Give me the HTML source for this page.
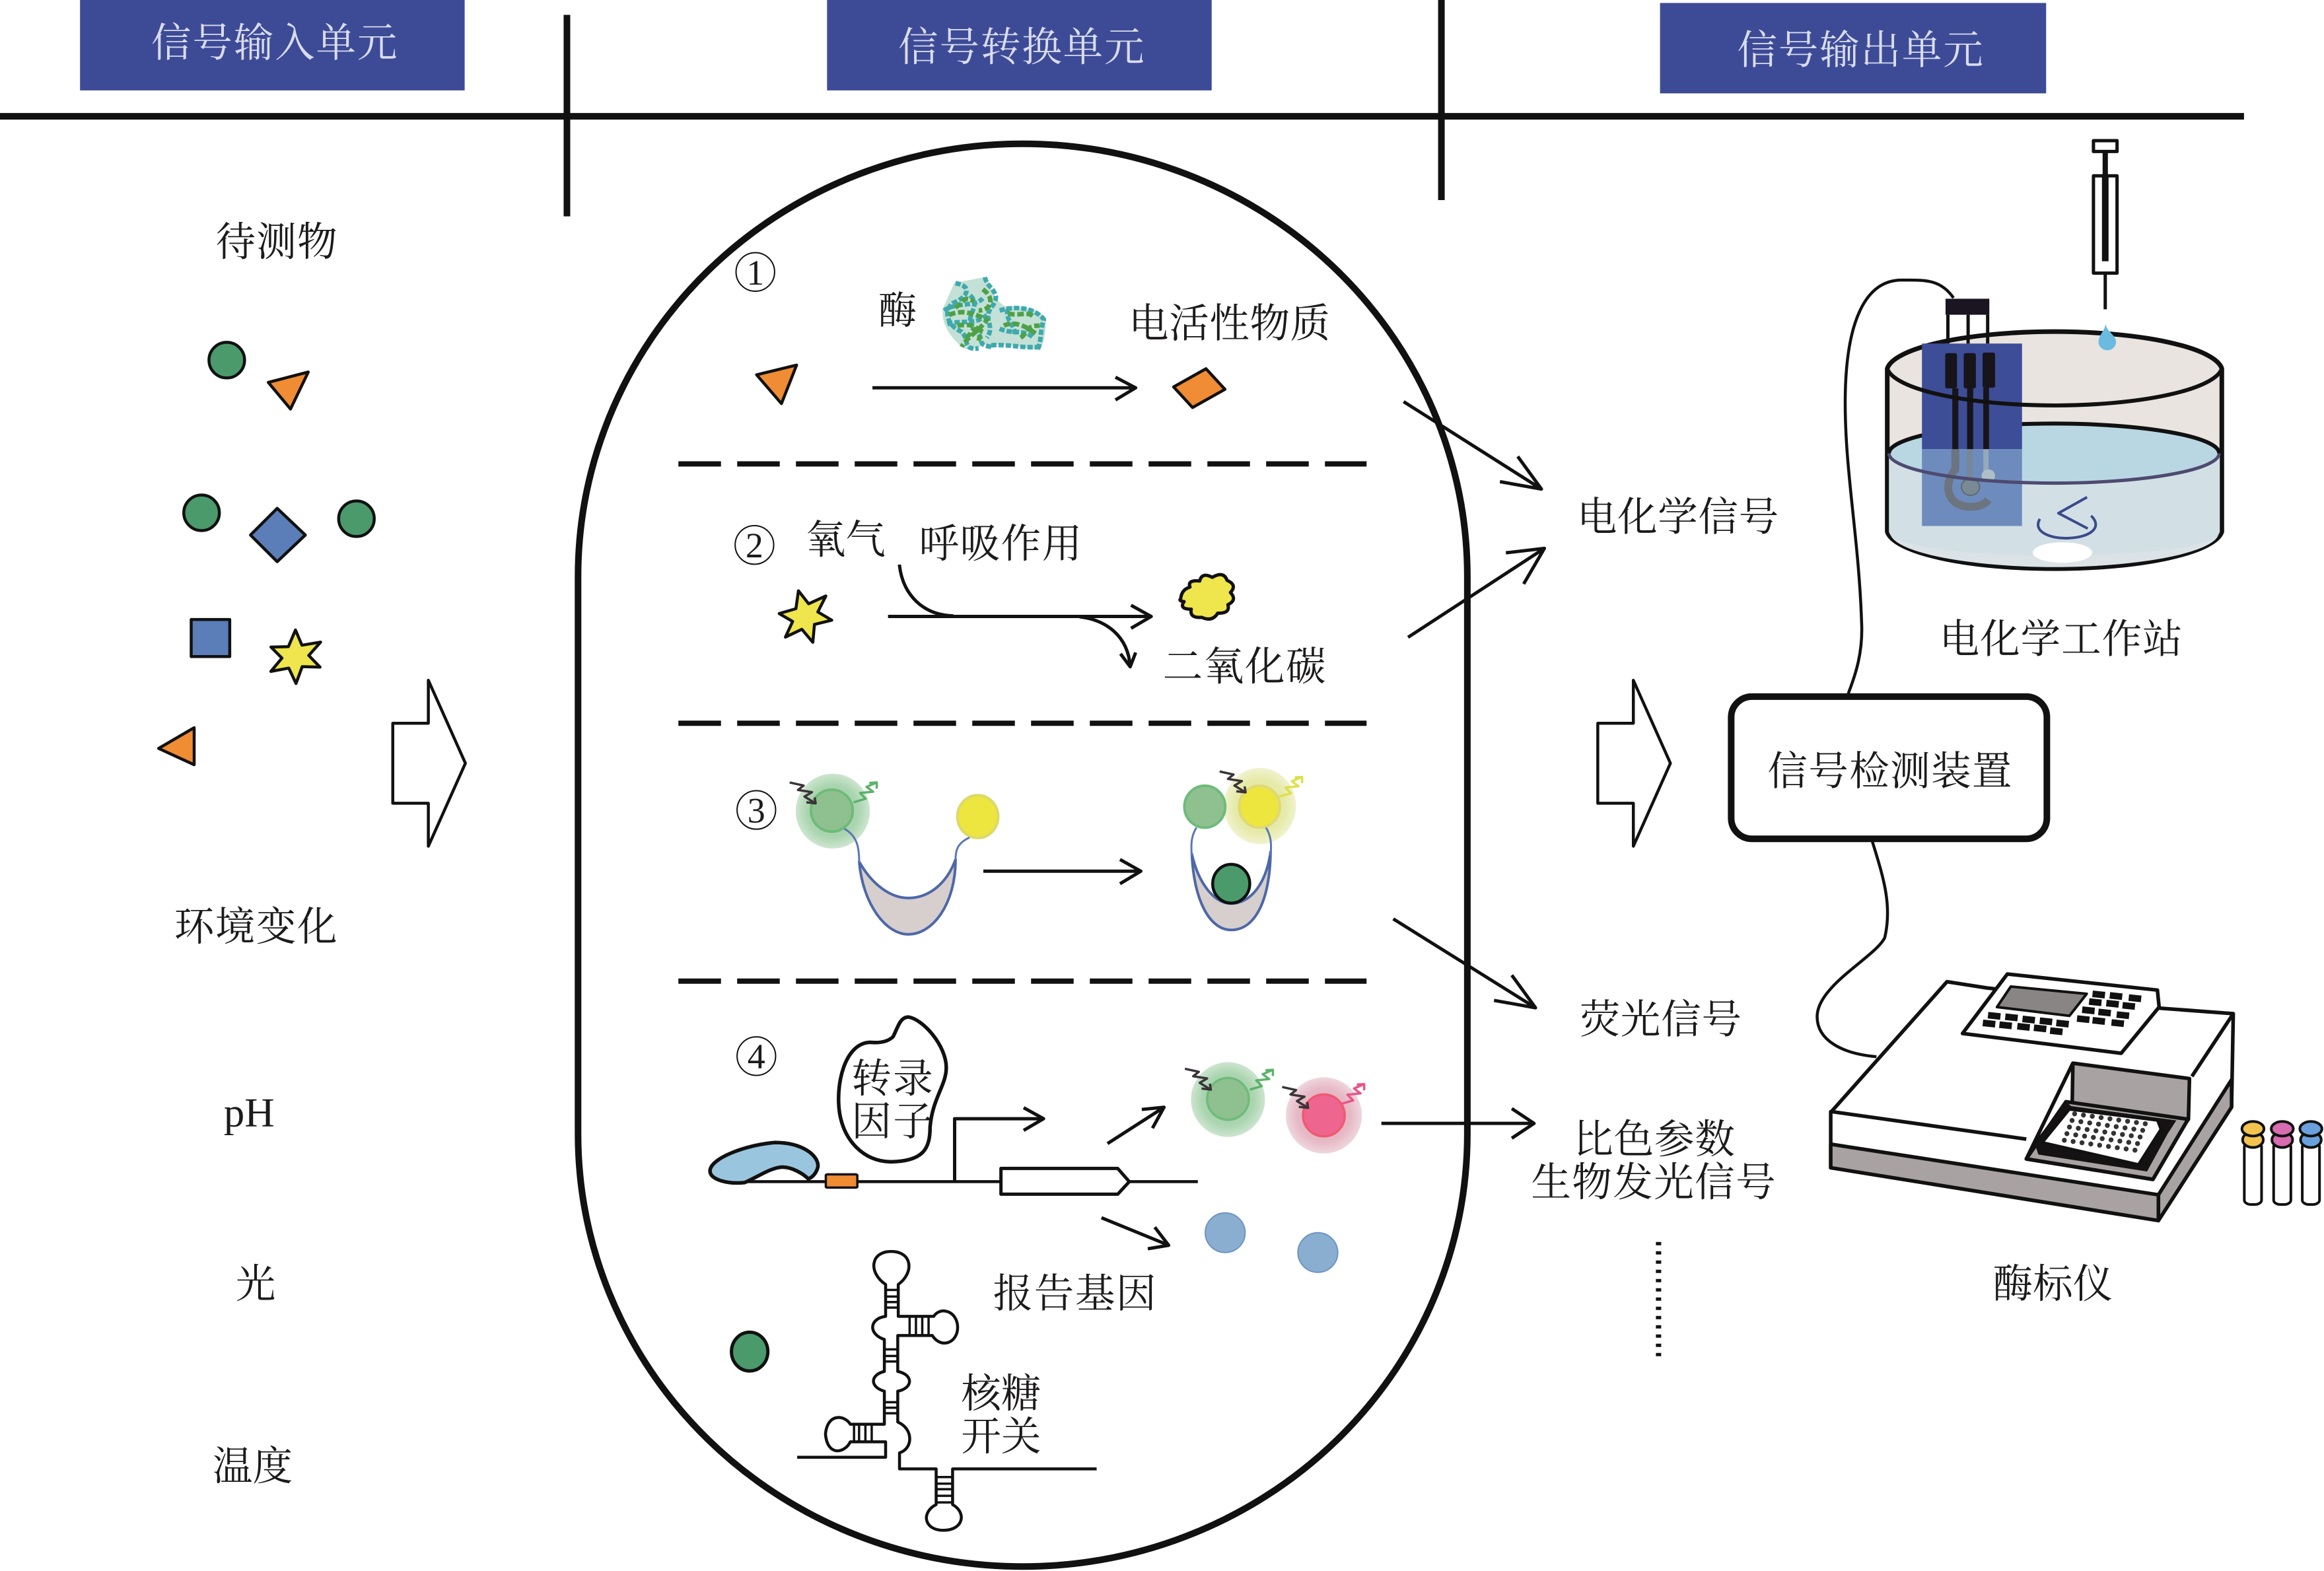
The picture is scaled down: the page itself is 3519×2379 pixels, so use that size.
<!DOCTYPE html>
<html><head><meta charset="utf-8"><style>
html,body{margin:0;padding:0;background:#fff}
svg{display:block}
svg *{vector-effect:non-scaling-stroke}
text{font-family:"Liberation Serif","Noto Serif CJK SC",serif;font-size:27px;fill:#1c1a1a;stroke:none}
.h{fill:#d9dcec}
</style></head><body>
<svg xmlns="http://www.w3.org/2000/svg" width="3519" height="2379" viewBox="0 0 3519 2379">
<defs>
<radialGradient id="gg"><stop offset="0" stop-color="#9ccda4"/><stop offset=".7" stop-color="#abd5b0"/><stop offset="1" stop-color="#cde5cf"/></radialGradient>
<radialGradient id="gy"><stop offset="0" stop-color="#e4e99a"/><stop offset=".7" stop-color="#e6eaa8"/><stop offset="1" stop-color="#f0f2cf"/></radialGradient>
<radialGradient id="gp"><stop offset="0" stop-color="#eaa5b8"/><stop offset=".7" stop-color="#e6b9c6"/><stop offset="1" stop-color="#efd6dc"/></radialGradient>
<path id="wi" fill="none" d="M0,0 L30,14 L18,34 L48,44 L32,64 L56,95 M36,90 L56,95 L54,68"/>
<path id="wo" fill="none" d="M0,90 L26,74 L14,48 L42,42 L28,20 L50,0 M34,2 L50,0 L50,28"/>
<polygon id="st" points="-4.3,-17.4 2.6,-8.6 14.2,-13.9 8.8,-3.1 18.2,2.5 6.5,5.3 5.4,17.4 -2,8.6 -13.1,13.9 -8.2,3.3 -17.3,-2 -6,-5.3"/>
</defs>
<rect width="3519" height="2379" fill="#fff"/>

<g transform="scale(2.2443)" fill="none" stroke="#111" stroke-width="5" stroke-linejoin="round">
<!-- headers -->
<rect x="54" y="0" width="259.5" height="61" fill="#3d4b97" stroke="none"/>
<rect x="558" y="0" width="259.5" height="61" fill="#3d4b97" stroke="none"/>
<rect x="1120" y="2" width="260.5" height="61" fill="#3d4b97" stroke="none"/>
<text class="h" x="102" y="38" textLength="166">信号输入单元</text>
<text class="h" x="606" y="41" textLength="166">信号转换单元</text>
<text class="h" x="1172" y="43" textLength="166">信号输出单元</text>
<path d="M0,78.5H1514M382.5,10V146M972.5,0V135" stroke-width="10"/>
<!-- capsule -->
<rect x="390" y="97" width="600" height="960" rx="300" ry="292" stroke-width="10"/>
<path d="M457.7,313H922M457.7,488H922M457.7,662H922" stroke-width="8" stroke-dasharray="64.5 24.5"/>

<!-- left column -->
<text x="145.5" y="172.5" textLength="82">待测物</text>
<text x="117.5" y="634.5" textLength="110">环境变化</text>
<text x="151" y="760" style="font-size:28px">pH</text>
<text x="159" y="875.5">光</text>
<text x="143.5" y="998.5" textLength="54">温度</text>
<g stroke-width="4.5">
<circle cx="153" cy="243" r="12" fill="#4b9a6b"/>
<polygon points="181,258 208,251 196,276" fill="#f08c33"/>
<circle cx="136" cy="346" r="12" fill="#4b9a6b"/>
<circle cx="240.5" cy="350" r="12" fill="#4b9a6b"/>
<polygon points="187,343 206,361 187,379 169,361" fill="#5b7db8"/>
<rect x="129" y="418" width="26" height="25" fill="#5b7db8"/>
<use href="#st" transform="translate(199,443) rotate(15)" fill="#eee64c"/>
<polygon points="107,505 131,491 131,516" fill="#f08c33"/>
</g>
<polygon points="265,488 289,488 289,459 314,515 289,571 289,542 265,542" stroke-width="4.5" fill="#fff"/>
<polygon points="1078,488 1102,488 1102,459 1127,515 1102,571 1102,542 1078,542" stroke-width="4.5" fill="#fff"/>

<!-- number circles -->
<g stroke-width="2">
<circle cx="509.6" cy="183.5" r="13"/><circle cx="509" cy="367.7" r="13"/><circle cx="510.3" cy="546.5" r="13"/><circle cx="510.3" cy="712.6" r="13"/>
</g>
<g style="text-anchor:middle">
<text x="509.6" y="192" style="font-size:24px">1</text>
<text x="509" y="376" style="font-size:24px">2</text>
<text x="510.3" y="555" style="font-size:24px">3</text>
<text x="510.3" y="721" style="font-size:24px">4</text>
</g>

<text x="592.5" y="218.5" style="font-size:26px">酶</text>
<text x="761.5" y="227.5" textLength="136">电活性物质</text>
<text x="543.5" y="373.5" textLength="54">氧气</text>
<text x="620" y="376" textLength="110">呼吸作用</text>
<text x="784.5" y="459" textLength="110">二氧化碳</text>
<text x="574.5" y="737" textLength="55">转录</text>
<text x="574.5" y="766" textLength="55">因子</text>
<text x="670" y="882" textLength="110">报告基因</text>
<text x="648.5" y="949.5" textLength="54">核糖</text>
<text x="648.5" y="978.5" textLength="54">开关</text>
<text x="1064" y="358" textLength="136">电化学信号</text>
<text x="1308.5" y="440.5" textLength="164">电化学工作站</text>
<text x="1192.5" y="529.5" textLength="165">信号检测装置</text>
<text x="1066" y="697" textLength="109">荧光信号</text>
<text x="1061.5" y="778" textLength="109">比色参数</text>
<text x="1033" y="807" textLength="165">生物发光信号</text>
<text x="1344.5" y="875.5" textLength="81">酶标仪</text>

<!-- long arrows -->
<path d="M947,271L1040,330M1012,325L1040,330L1024,308M950,430L1042,370M1016,373L1042,370L1028,394M940,620L1036,680M1008,675L1036,680L1020,658M932,758H1035M1020,748L1035,758L1020,768"/>
<path d="M1119,838V918" stroke-width="8" stroke-dasharray="5 9"/>
<rect x="1168" y="470" width="213" height="96" rx="14" stroke-width="10"/>
<path d="M1318,201C1309,188 1298,189 1283,189C1258,189 1246,218 1245,265C1244,315 1254,360 1256,420C1257,440 1252,455 1247,468" stroke-width="4.5"/>
<path d="M1263,567C1270,590 1277,610 1271.6,632.7C1265,646 1226,665 1226,686C1226,702 1243,711 1266,713" stroke-width="4.5"/>

<!-- Z6: sections 1,2 -->
<g transform="translate(481.2,160.4) scale(.28417,.2046)" stroke-width="4.5">
<polygon points="103,452 198,420 162,547" fill="#f08c33"/>
<polygon points="1093,492 1170,432 1215,500 1138,560" fill="#f08c33"/>
<path d="M378,495H1003M955,460L1003,495L955,535" stroke-width="5"/>
<path d="M572,150Q640,130 650,130Q665,200 690,225Q770,225 790,265Q790,340 775,372Q680,345 640,355Q610,378 590,360Q540,300 545,235Z" fill="#a9d4c4" stroke="none" opacity=".7"/>
<g stroke-width="7" stroke="#3fa9ad" stroke-dasharray="8 3">
<path d="M575,150C620,160 600,200 570,215C545,240 555,290 590,310C610,340 590,370 630,365"/>
<path d="M610,190C640,230 590,260 620,300C650,340 620,350 660,360"/>
<path d="M645,130C650,170 690,180 660,230C640,270 670,290 650,330"/>
<path d="M680,240C730,220 770,240 785,270C775,310 780,340 770,370"/>
<path d="M680,300C710,320 740,300 760,330M660,355C700,350 730,365 775,360"/>
<path d="M548,240C580,210 620,230 640,200M556,285C590,270 620,290 650,255M700,235C690,270 720,290 715,320"/>
</g>
<g stroke-width="7" stroke="#4fa146" stroke-dasharray="10 4">
<path d="M560,255C590,235 620,250 650,270C630,310 600,330 590,360"/>
<path d="M640,170C670,200 660,240 630,240M580,290C620,280 640,300 630,340"/>
<path d="M690,290C720,270 750,300 770,320M700,250C730,260 745,240 760,260"/>
<path d="M600,330C620,310 610,290 640,310M575,230C600,210 590,190 620,210M730,330C750,310 740,290 775,290"/>
</g>
<path d="M442,1078C450,1180 500,1245 570,1247M415,1249H1040M992,1212L1040,1249L992,1288M870,1250C930,1260 985,1310 990,1415M967,1372L990,1415L1003,1368" stroke-width="5"/>
<path d="M1110,1190Q1112,1160 1132,1152Q1125,1128 1155,1132Q1160,1102 1185,1120Q1212,1098 1220,1130Q1245,1145 1228,1170Q1245,1195 1222,1210Q1228,1240 1198,1238Q1185,1268 1160,1252Q1130,1255 1135,1225Q1105,1225 1118,1200Q1104,1198 1110,1190Z" fill="#eee64c" stroke-width="5"/>
</g>
<use href="#st" transform="translate(543,416)" fill="#eee64c" stroke-width="4.5"/>

<!-- Z3: section 3 -->
<g transform="translate(463.4,499) scale(.31258,.14853)" stroke-width="4">
<ellipse cx="315" cy="325" rx="80" ry="170" fill="url(#gg)" stroke="none"/>
<ellipse cx="313" cy="323" rx="45" ry="95" fill="#8fc190" stroke="#6fbb7a"/>
<ellipse cx="628" cy="350" rx="44" ry="97" fill="#ece63f" stroke="#dcd96a"/>
<path d="M372,555C380,750 430,885 478,885C530,885 580,750 580,545C560,660 520,720 478,720C440,720 400,660 372,555Z" fill="#d6cfcd" stroke="#4d68a8"/>
<path d="M340,405C370,440 372,500 372,560M610,445C585,470 580,500 580,545" stroke="#5a78b5" stroke-width="3"/>
<use href="#wi" transform="translate(222,195)" stroke="#3a3438" stroke-width="3.5"/>
<use href="#wo" transform="translate(360,195)" stroke="#5db26a" stroke-width="3.5"/>
<path d="M640,598H980M935,545L980,598L935,655" stroke-width="5"/>
<ellipse cx="1237" cy="302" rx="78" ry="173" fill="url(#gy)" stroke="none"/>
<ellipse cx="1236" cy="305" rx="44" ry="95" fill="#ece63f" stroke="#e0d878"/>
<ellipse cx="1118" cy="305" rx="44" ry="95" fill="#8fc190" stroke="#6fbb7a"/>
<path d="M1090,520C1095,740 1130,865 1175,865C1225,865 1258,740 1260,510C1250,660 1215,745 1175,745C1140,745 1105,660 1090,520Z" fill="#d6cfcd" stroke="#4d68a8"/>
<path d="M1100,400C1088,440 1088,480 1090,530M1250,400C1262,440 1262,480 1260,530" stroke="#5a78b5" stroke-width="3"/>
<ellipse cx="1175" cy="655" rx="40" ry="88" fill="#4b9a6b" stroke="#111" stroke-width="4.5"/>
<use href="#wi" transform="translate(1150,145)" stroke="#3a3438" stroke-width="3.5"/>
<use href="#wo" transform="translate(1278,170)" stroke="#dfe04a" stroke-width="3.5"/>
</g>

<!-- Z4: section 4 -->
<g transform="translate(463.4,677.3) scale(.31258,.14853)" stroke-width="5">
<path d="M125,808H1103" stroke-width="4.5"/>
<path d="M50,760C50,700 130,640 190,630C250,630 285,690 283,740C280,770 270,790 262,795C250,770 225,740 205,742C180,745 150,790 125,812C90,820 50,800 50,760Z" fill="#9ac5de" stroke-width="5.5"/>
<rect x="300" y="775" width="68" height="60" rx="4" fill="#f08c33" stroke-width="3.5"/>
<path d="M578,808V522H770M727,472L770,522L727,575"/>
<path d="M678,748H930L955,808L930,865H678Z" fill="#fff"/>
<path d="M478,60C510,70 560,190 560,290C560,370 530,430 525,560C525,660 510,715 440,718C380,715 340,620 330,500C320,370 340,180 395,175C420,180 435,170 445,150C455,110 460,60 478,60Z" stroke-width="5.5"/>
<path d="M908,635L1030,470M982,480L1030,470L1005,565M895,972L1040,1097M1010,1015L1040,1097L995,1113"/>
<ellipse cx="1168" cy="435" rx="80" ry="170" fill="url(#gg)" stroke="none"/>
<ellipse cx="1168" cy="432" rx="45" ry="95" fill="#8fc190" stroke="#6fbb7a" stroke-width="3.5"/>
<ellipse cx="1375" cy="507" rx="82" ry="173" fill="url(#gp)" stroke="none"/>
<ellipse cx="1375" cy="507" rx="45" ry="95" fill="#ee6590" stroke="#ee5a70" stroke-width="3.5"/>
<use href="#wi" transform="translate(1075,295)" stroke="#3a3438" stroke-width="3.5"/>
<use href="#wo" transform="translate(1215,300)" stroke="#5db26a" stroke-width="3.5"/>
<use href="#wi" transform="translate(1285,378)" stroke="#3a3438" stroke-width="3.5"/>
<use href="#wo" transform="translate(1412,365)" stroke="#e9558a" stroke-width="3.5"/>
<ellipse cx="1162" cy="1040" rx="43" ry="90" fill="#8aaecf" stroke="#6d93c4" stroke-width="2"/>
<ellipse cx="1362" cy="1130" rx="43" ry="90" fill="#8aaecf" stroke="#6d93c4" stroke-width="2"/>
</g>

<!-- Z5: riboswitch -->
<g transform="translate(490.1,828.8) scale(.1705,.14853)" stroke-width="4.5">
<ellipse cx="92" cy="560" rx="72" ry="88" fill="#4b9a6b" stroke-width="5"/>
<path d="M280,1040H630V970H490C470,1020 400,1040 392,935C400,835 470,850 490,890H625V740C565,720 570,665 625,650V505C560,480 565,410 630,400V255C560,200 570,105 652,105C735,105 745,200 680,255V400H820C850,350 915,380 915,450C915,520 850,550 815,487H678V650C740,665 740,725 678,740V880C740,910 740,1000 685,1020V1093H830V1255C770,1290 780,1372 860,1372C940,1370 950,1290 895,1255V1093H1465"/>
<path d="M630,280H680M630,310H680M630,335H680M630,360H680M725,400V487M750,400V487M775,400V487M800,400V487M625,550H678M625,580H678M625,605H678M625,790H680M625,815H680M625,840H680M505,890V970M525,890V970M550,890V970M575,890V970M830,1130H895M830,1160H895M830,1185H895M830,1215H895M830,1245H895" stroke-width="3.5"/>
</g>

<!-- Z1: electrochemical cell -->
<g transform="translate(1158.5,80.2) scale(.22733,.21597)" stroke-width="6">
<path d="M505,780V1290A498,125 0 0 0 1498,1290V780A498,125 0 0 0 505,780Z" fill="#e9e4df" stroke-width="7"/>
<path d="M510,1045V1290A492,118 0 0 0 1492,1290V1045Z" fill="#d2e0e6" stroke="none"/>
<path d="M515,1300A488,108 0 0 0 1488,1300A488,70 0 0 1 515,1300Z" fill="#dbe3e6" stroke="none"/>
<ellipse cx="1000" cy="1045" rx="490" ry="93" fill="#b9d7e2" stroke="none"/>
<path d="M510,1045A490,93 0 0 1 1490,1045"/>
<path d="M505,780A498,125 0 0 1 1498,780"/>
<path d="M685,612V702M745,612V702M803,612V702" stroke-width="5"/>
<rect x="678" y="562" width="130" height="50" fill="#1a1520" stroke="none"/>
<rect x="608" y="702" width="297" height="330" fill="#3d4d97" stroke="none"/>
<rect x="608" y="1032" width="297" height="240" fill="#6d8cbd" stroke="none"/>
<g fill="#17141a" stroke="none">
<rect x="677" y="732" width="35" height="110" rx="6"/><rect x="732" y="732" width="36" height="110" rx="6"/><rect x="788" y="730" width="37" height="110" rx="6"/>
<rect x="698" y="842" width="18" height="190"/><rect x="742" y="842" width="18" height="190"/><rect x="790" y="840" width="17" height="192"/>
</g>
<path d="M707,1032V1095C670,1140 680,1210 750,1212C775,1212 795,1205 805,1190" stroke="#6c7480" stroke-width="12"/>
<path d="M750,1032V1130" stroke="#76879a" stroke-width="9"/>
<path d="M798,1032V1110" stroke="#94aabb" stroke-width="8"/>
<circle cx="805" cy="1115" r="20" fill="#aebfc7" stroke="none"/>
<ellipse cx="752" cy="1150" rx="27" ry="26" fill="#7a8a95" stroke="#5f6a72" stroke-width="2"/>
<path d="M510,1045A490,93 0 0 0 1490,1045" stroke="#4e4a70" stroke-width="5"/>
<path d="M505,780A498,125 0 0 0 1498,780"/>
<ellipse cx="1025" cy="1355" rx="88" ry="32" fill="#fff" stroke="none"/>
<path d="M958,1250C935,1290 990,1312 1040,1310C1110,1308 1145,1275 1110,1240M1098,1182L1013,1232L1100,1280" stroke="#3a4a8a" stroke-width="4"/>
<path d="M1153,640C1156,665 1184,675 1184,697A26,26 0 0 1 1132,697C1132,675 1150,665 1153,640Z" fill="#6bbae0" stroke="none"/>
<rect x="1117" y="68" width="70" height="34" stroke-width="5"/>
<rect x="1117" y="178" width="70" height="304" stroke-width="5"/>
<path d="M1152,102V178" stroke-width="8"/>
<path d="M1152,178V445" stroke-width="10"/>
<path d="M1152,482V595" stroke-width="5"/>
</g>

<!-- Z2: plate reader -->
<g transform="translate(1203.05,632.7) scale(.23273,.14853)" stroke-width="5.5">
<polygon points="140,790 475,200 590,228 1090,320 1305,345 1300,770 1088,1285 138,1045 138,790" fill="#fff"/>
<polygon points="138,938 1088,1168 1088,1285 138,1045" fill="#a8a2a2"/>
<polygon points="1300,645 1300,770 1088,1285 1088,1168" fill="#a8a2a2"/>
<path d="M1305,345L1185,630"/>
<path d="M140,790L705,915"/>
<polygon points="840,570 1178,640 1175,825 838,760" fill="#a8a2a2"/>
<polygon points="705,1005 1072,1098 1170,835 1175,825 820,745" fill="#a8a2a2"/>
<polygon points="728,930 820,745 835,765 1140,830 1115,890 1055,1062 740,985" fill="#141212" stroke="none"/>
<path d="M840,570L705,1005L1072,1098L1172,830"/>
<polygon points="830,780 1085,830 1095,870 1030,1030 752,930" fill="#fff" stroke-width="4"/>
<polygon points="520,435 650,165 1085,238 1090,315 980,525" fill="#fff"/>
<polygon points="660,222 880,255 830,355 620,315" fill="#8a8585" stroke-width="4"/>
<path stroke-width="10" d="M897,255L933,261M947,262L983,268M1002,272L1038,278M887,290L923,296M937,297L973,303M984,307L1020,313M867,327L903,333M914,337L950,343M967,349L1003,355M852,367L888,373M897,375L933,381M952,385L988,391M594,352L630,358M644,359L680,365M694,369L730,375M744,377L780,383M792,387L828,393M579,387L615,393M627,395L663,401M679,402L715,408M727,409L763,415M774,422L810,428"/>
<g stroke-width="4">
<rect x="1337" y="930" width="50" height="282" rx="20" fill="#fff"/>
<rect x="1422" y="930" width="50" height="282" rx="20" fill="#fff"/>
<rect x="1505" y="930" width="50" height="282" rx="20" fill="#fff"/>
<ellipse cx="1362" cy="918" rx="30" ry="35" fill="#f2c44f"/><ellipse cx="1362" cy="868" rx="32" ry="33" fill="#f2c44f"/>
<ellipse cx="1447" cy="918" rx="30" ry="35" fill="#d86cb0"/><ellipse cx="1447" cy="868" rx="32" ry="33" fill="#d86cb0"/>
<ellipse cx="1530" cy="918" rx="30" ry="35" fill="#6aa1dc"/><ellipse cx="1530" cy="868" rx="32" ry="33" fill="#6aa1dc"/>
</g>
</g>
</g>
<!-- plate wells -->
<g stroke="#333" stroke-width="7.5" stroke-linecap="round" stroke-dasharray="0 13.5" fill="none">
<path d="M3141.4,1686.7l107,15"/><path d="M3137.5,1696.7l107,15"/><path d="M3133.6,1706.7l107,15"/><path d="M3129.7,1716.7l107,15"/><path d="M3125.8,1726.7l107,15"/>
</g>
</svg>
</body></html>
